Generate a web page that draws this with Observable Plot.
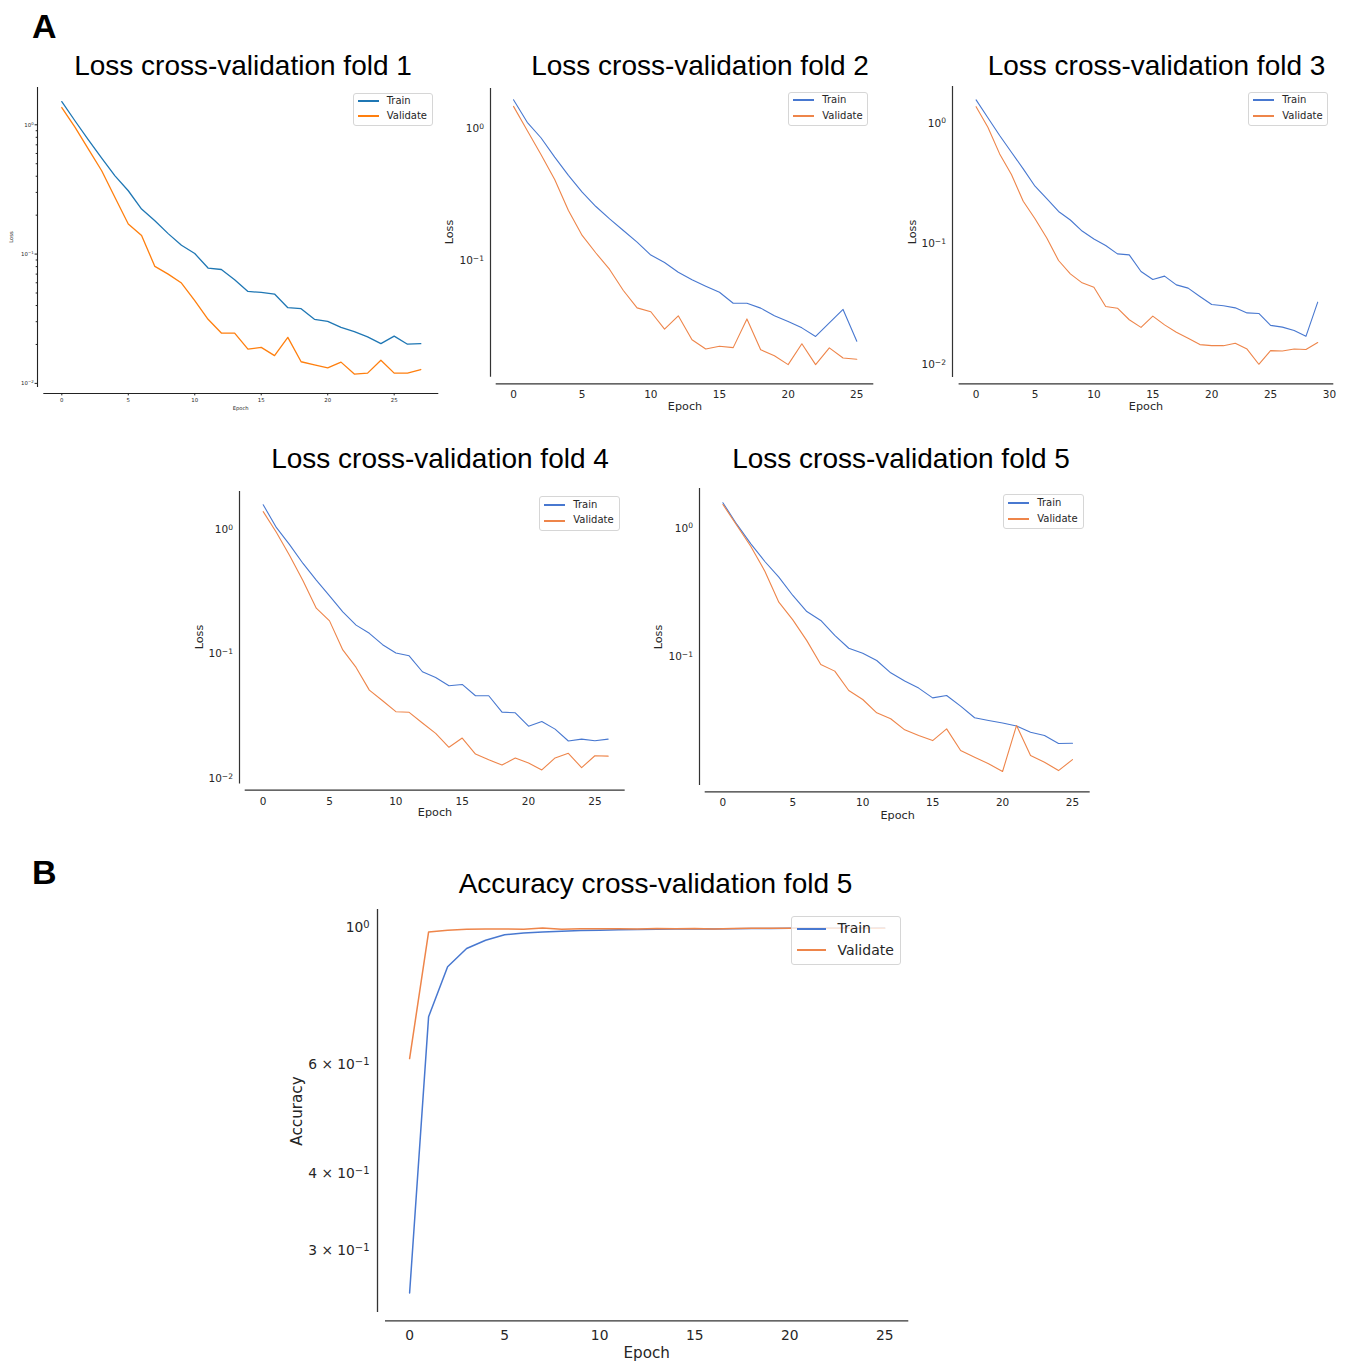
<!DOCTYPE html>
<html><head><meta charset="utf-8">
<script src="https://cdn.jsdelivr.net/npm/d3@7"></script>
<script src="https://cdn.jsdelivr.net/npm/@observablehq/plot@0.6"></script>
<style>
body{margin:0;background:#fff;}
#fig{position:relative;width:1349px;height:1364px;overflow:hidden;background:#fff;}
.abs{position:absolute;white-space:nowrap;line-height:1;}
.title{font-family:"Liberation Sans",Arial,Helvetica,sans-serif;font-size:28px;color:#000;}
.letter{font-family:"Liberation Sans",Arial,Helvetica,sans-serif;font-weight:bold;font-size:34px;color:#000;}
.lab{font-family:"DejaVu Sans",sans-serif;color:#262626;}
.leg{position:absolute;box-sizing:border-box;border:1px solid #d6d6d6;border-radius:3px;background:rgba(255,255,255,0.8);}
svg{position:absolute;overflow:visible;}
</style>
</head><body>
<div id="fig"></div>
<script>
// ---------------- data ----------------
const seriesNames = ["Train", "Validate"];
const fold1Train = [1.51,1.07,0.766,0.552,0.403,0.309,0.223,0.181,0.144,0.117,0.101,0.078,0.076,0.0633,0.0514,0.0505,0.0491,0.0385,0.0378,0.0313,0.0302,0.0271,0.0251,0.0229,0.0203,0.0232,0.0201,0.0203];
const fold1Val = [1.36,0.954,0.648,0.441,0.274,0.171,0.139,0.0803,0.0700,0.0597,0.0436,0.0313,0.0245,0.0245,0.0184,0.0190,0.0164,0.0227,0.0147,0.0139,0.0132,0.0146,0.0118,0.0120,0.0151,0.0120,0.0120,0.0128];
const fold2Train = [1.66,1.12,0.855,0.609,0.443,0.330,0.257,0.207,0.169,0.138,0.110,0.0966,0.0815,0.0713,0.0638,0.0574,0.0474,0.0474,0.0435,0.0380,0.0344,0.0308,0.0265,0.0336,0.0425,0.0244];
const fold2Val = [1.48,0.971,0.638,0.412,0.240,0.155,0.114,0.0855,0.0592,0.0437,0.0408,0.0301,0.0380,0.0250,0.0213,0.0223,0.0218,0.0360,0.0210,0.0189,0.0162,0.0233,0.0162,0.0217,0.0182,0.0178];
const fold3Train = [1.56,1.11,0.791,0.575,0.419,0.301,0.237,0.186,0.158,0.128,0.110,0.0972,0.0829,0.0813,0.0592,0.0508,0.0542,0.0459,0.0431,0.0368,0.0316,0.0308,0.0296,0.0269,0.0266,0.0212,0.0205,0.0192,0.0172,0.0330];
const fold3Val = [1.37,0.927,0.557,0.376,0.226,0.162,0.112,0.0730,0.0566,0.0477,0.0439,0.0304,0.0294,0.0236,0.0204,0.0253,0.0214,0.0186,0.0166,0.0147,0.0144,0.0144,0.0151,0.0135,0.0101,0.0131,0.0130,0.0135,0.0134,0.0153];
const fold4Train = [1.59,1.04,0.757,0.536,0.394,0.294,0.219,0.171,0.147,0.119,0.102,0.0969,0.0721,0.0649,0.0556,0.0570,0.0462,0.0462,0.0341,0.0337,0.0263,0.0287,0.0249,0.0200,0.0207,0.0201,0.0207];
const fold4Val = [1.40,0.952,0.618,0.389,0.234,0.185,0.108,0.0781,0.0513,0.0421,0.0344,0.0340,0.0279,0.0230,0.0178,0.0211,0.0157,0.0141,0.0128,0.0146,0.0133,0.0117,0.0146,0.0159,0.0122,0.0152,0.0151];
const fold5Train = [1.58,1.07,0.755,0.550,0.415,0.299,0.224,0.191,0.146,0.116,0.106,0.0931,0.0746,0.0643,0.0567,0.0476,0.0497,0.0410,0.0333,0.0317,0.0303,0.0287,0.0257,0.0242,0.0210,0.0211];
const fold5Val = [1.53,1.05,0.720,0.462,0.265,0.193,0.133,0.0867,0.0769,0.0543,0.0462,0.0364,0.0327,0.0268,0.0242,0.0221,0.0273,0.0185,0.0164,0.0146,0.0127,0.0290,0.0169,0.0150,0.0129,0.0157];
const accTrain = [0.256,0.718,0.865,0.926,0.955,0.975,0.981,0.985,0.988,0.990,0.991,0.993,0.994,0.995,0.996,0.997,0.996,0.997,0.998,0.998,0.999,0.999,0.999,0.999,0.999,1.0];
const accVal = [0.614,0.985,0.991,0.995,0.996,0.996,0.995,1.0,0.995,0.997,0.997,0.997,0.996,0.998,0.997,0.998,0.996,0.998,0.999,0.999,0.999,0.999,0.999,0.999,0.999,0.999];

const epochTicks25 = [0,5,10,15,20,25];
const epochTicks30 = [0,5,10,15,20,25,30];
const lossTickValues = [1, 0.1, 0.01];
const lossTickLabels = ["10^0", "10^-1", "10^-2"];
const lossTickValuesShort = [1, 0.1];
const accTickValues = [1, 0.6, 0.4, 0.3];
const accTickLabels = ["10^0", "6 × 10^-1", "4 × 10^-1", "3 × 10^-1"];
const minorTickValues = [0.02,0.03,0.04,0.05,0.06,0.07,0.08,0.09,0.2,0.3,0.4,0.5,0.6,0.7,0.8,0.9];
const titles = ["Loss cross-validation fold 1","Loss cross-validation fold 2","Loss cross-validation fold 3","Loss cross-validation fold 4","Loss cross-validation fold 5","Accuracy cross-validation fold 5"];

// ---------------- styles / layout ----------------
const mplColors = ["#1f77b4", "#ff7f0e"];
const snsColors = ["#4878d0", "#ee854a"];
const fig = document.getElementById("fig");
const SVGNS = "http://www.w3.org/2000/svg";

function addDiv(cls, text, css) {
  const d = document.createElement("div");
  d.className = "abs " + cls;
  d.textContent = text;
  Object.assign(d.style, css);
  fig.appendChild(d);
  return d;
}

// turn "10^-1" labels into base + raised exponent
function superscripts(svg) {
  svg.querySelectorAll("text").forEach(t => {
    const s = t.textContent;
    const k = s.indexOf("^");
    if (k < 0) return;
    const base = s.slice(0, k), exp = s.slice(k + 1).replace("-", "−");
    while (t.firstChild) t.removeChild(t.firstChild);
    t.appendChild(document.createTextNode(base));
    const sp = document.createElementNS(SVGNS, "tspan");
    sp.setAttribute("dy", "-0.42em");
    sp.setAttribute("font-size", "72%");
    sp.textContent = exp;
    t.appendChild(sp);
  });
}

const mL = 80, mR = 12, mT = 6, mB = 44;

function panel(c) {
  const pxE = (c.x25 - c.x0) / 25;
  const xAt = px => (px - c.x0) / pxE;
  const yAt = px => Math.pow(10, -(px - c.y1) / c.pxDec);
  const xDomain = [xAt(c.frameLeft), xAt(c.frameRight)];
  const yDomain = [yAt(c.frameBottom), yAt(c.frameTop)];
  const width = mL + (c.frameRight - c.frameLeft) + mR;
  const height = mT + (c.frameBottom - c.frameTop) + mB;
  const tr = c.train.map((v, i) => ({epoch: i, value: v, series: seriesNames[0]}));
  const va = c.val.map((v, i) => ({epoch: i, value: v, series: seriesNames[1]}));
  const yTicksIn = (c.yTicksShown || c.yTicks).filter(t => t >= yDomain[0] && t <= yDomain[1]);
  const marks = [
    Plot.ruleX([xDomain[0]], {y1: yAt(c.ySpineBottom), y2: yDomain[1], stroke: c.spine, strokeWidth: c.spineWidth}),
    Plot.ruleY([yDomain[0]], {x1: xAt(c.xSpineLeft), x2: xDomain[1], stroke: c.spine, strokeWidth: c.spineWidth}),
    Plot.axisX({ticks: c.xTicks, tickSize: c.tickSize, tickPadding: c.xPad, fontSize: c.fontSize, label: null, tickFormat: d => String(d), stroke: c.spine}),
    Plot.axisY({ticks: yTicksIn, tickSize: c.tickSize, tickPadding: c.yPad, fontSize: c.fontSize, label: null, tickFormat: d => c.yLabels[c.yTicks.indexOf(d)], stroke: c.spine})
  ];
  if (c.minor) {
    marks.push(Plot.axisY({ticks: minorTickValues.filter(t => t > yDomain[0] && t < yDomain[1]), tickSize: c.tickSize * 0.55, tickFormat: () => "", label: null, stroke: c.spine}));
  }
  marks.push(Plot.line(tr, {x: "epoch", y: "value", stroke: c.colors[0], strokeWidth: c.lw}));
  marks.push(Plot.line(va, {x: "epoch", y: "value", stroke: c.colors[1], strokeWidth: c.lw}));
  const svg = Plot.plot({
    width, height,
    marginLeft: mL, marginRight: mR, marginTop: mT, marginBottom: mB,
    x: {type: "linear", domain: xDomain},
    y: {type: "log", domain: yDomain},
    style: {fontFamily: "DejaVu Sans, sans-serif", color: "#262626", background: "transparent"},
    marks
  });
  superscripts(svg);
  svg.style.left = (c.frameLeft - mL) + "px";
  svg.style.top = (c.frameTop - mT) + "px";
  fig.appendChild(svg);

  // title
  addDiv("title", c.title, {left: c.titleX + "px", top: (c.titleBase - 0.8465 * 28) + "px", transform: "translateX(-50%)"});
  // axis labels
  addDiv("lab", "Epoch", {left: c.xLab[0] + "px", top: c.xLab[1] + "px", fontSize: c.labelSize + "px", transform: "translate(-50%,-50%)"});
  addDiv("lab", c.yName, {left: c.yLab[0] + "px", top: c.yLab[1] + "px", fontSize: c.labelSize + "px", transform: "translate(-50%,-50%) rotate(-90deg)"});
  // legend
  const L = c.legend;
  const box = document.createElement("div");
  box.className = "leg";
  Object.assign(box.style, {left: L.box[0] + "px", top: L.box[1] + "px", width: (L.box[2] - L.box[0]) + "px", height: (L.box[3] - L.box[1]) + "px"});
  fig.appendChild(box);
  seriesNames.forEach((name, i) => {
    const ln = document.createElement("div");
    ln.className = "abs";
    Object.assign(ln.style, {left: L.line[0] + "px", width: (L.line[1] - L.line[0]) + "px", top: Math.round(L.rows[i] - L.lw / 2) + "px", height: L.lw + "px", background: c.colors[i]});
    fig.appendChild(ln);
    addDiv("lab", name, {left: L.text + "px", top: L.rows[i] + "px", fontSize: L.fs + "px", transform: "translateY(-50%)"});
  });
}

const seabornBase = {colors: snsColors, lw: 1.1, spine: "#333", spineWidth: 1.2, tickSize: 0, xPad: 7, yPad: 6.5, fontSize: 10.5, labelSize: 11.2, yName: "Loss", yTicks: lossTickValues, yLabels: lossTickLabels, xTicks: epochTicks25};

panel({
  title: titles[0], titleX: 243, titleBase: 76,
  train: fold1Train, val: fold1Val, colors: mplColors, lw: 1.3, spine: "#222", spineWidth: 1.1,
  frameLeft: 37, frameRight: 438.3, frameTop: 86.7, frameBottom: 392.7,
  x0: 61.3, x25: 393.7, y1: 124, pxDec: 129.3, ySpineBottom: 386.7, xSpineLeft: 43.3,
  xTicks: epochTicks25, yTicks: lossTickValues, yLabels: lossTickLabels, minor: true,
  tickSize: 2.4, xPad: 2.5, yPad: 1.5, fontSize: 5.4, labelSize: 5.2, yName: "Loss",
  xLab: [240.7, 409], yLab: [12, 237],
  legend: {box: [353.3, 92.7, 432.7, 126], line: [357.7, 379], text: 386.7, rows: [101, 116], fs: 10, lw: 1.5}
});
panel(Object.assign({}, seabornBase, {
  title: titles[1], titleX: 700, titleBase: 76,
  train: fold2Train, val: fold2Val,
  frameLeft: 490, frameRight: 873.3, frameTop: 88, frameBottom: 383.3,
  x0: 513, x25: 856.3, y1: 128.3, pxDec: 131.7, ySpineBottom: 376.7, xSpineLeft: 495.7,
  xLab: [685, 407.3], yLab: [450, 231.7],
  legend: {box: [788.3, 91.7, 868.3, 126], line: [792.7, 814], text: 822.3, rows: [100, 115.7], fs: 10, lw: 1.5}
}));
panel(Object.assign({}, seabornBase, {
  title: titles[2], titleX: 1156.5, titleBase: 76,
  train: fold3Train, val: fold3Val, xTicks: epochTicks30,
  frameLeft: 951.7, frameRight: 1333, frameTop: 86, frameBottom: 383.3,
  x0: 975.3, x25: 1269.8, y1: 122.7, pxDec: 120.8, ySpineBottom: 377, xSpineLeft: 958.3,
  xLab: [1146, 407.3], yLab: [912.7, 231.7],
  legend: {box: [1248.3, 91.7, 1328.3, 126], line: [1253.3, 1274], text: 1282.3, rows: [100, 115.7], fs: 10, lw: 1.5}
}));
panel(Object.assign({}, seabornBase, {
  title: titles[3], titleX: 440, titleBase: 469,
  train: fold4Train, val: fold4Val,
  frameLeft: 239.3, frameRight: 625, frameTop: 490.7, frameBottom: 789.3,
  x0: 263, x25: 594.7, y1: 529, pxDec: 124.3, ySpineBottom: 783.3, xSpineLeft: 245,
  xLab: [435, 813.3], yLab: [200, 636.7],
  legend: {box: [539.3, 496, 620, 530.7], line: [544, 565], text: 573.3, rows: [505, 520.3], fs: 10, lw: 1.5}
}));
panel(Object.assign({}, seabornBase, {
  title: titles[4], titleX: 901, titleBase: 469,
  train: fold5Train, val: fold5Val, yTicksShown: lossTickValuesShort,
  frameLeft: 699.3, frameRight: 1090, frameTop: 488, frameBottom: 791.3,
  x0: 722.7, x25: 1072.3, y1: 527.7, pxDec: 128.3, ySpineBottom: 785, xSpineLeft: 705,
  xLab: [897.7, 815.7], yLab: [659, 636.7],
  legend: {box: [1003.3, 494, 1084.3, 529], line: [1007.7, 1029], text: 1037.3, rows: [502.7, 518.7], fs: 10, lw: 1.5}
}));
panel(Object.assign({}, seabornBase, {
  title: titles[5], titleX: 655.5, titleBase: 893.5,
  train: accTrain, val: accVal, lw: 1.5, spineWidth: 1.3,
  yTicks: accTickValues, yLabels: accTickLabels, yName: "Accuracy",
  frameLeft: 377.2, frameRight: 908.5, frameTop: 909.3, frameBottom: 1320.7,
  x0: 409.3, x25: 884.4, y1: 927.7, pxDec: 617, ySpineBottom: 1312.3, xSpineLeft: 385.2,
  fontSize: 13.8, labelSize: 15.2, xPad: 9.5, yPad: 8,
  xLab: [646.7, 1354], yLab: [298, 1110.7],
  legend: {box: [790.8, 916, 901.3, 965], line: [797, 826], text: 837.4, rows: [928.3, 950], fs: 14, lw: 1.6}
}));

addDiv("letter", "A", {left: "32px", top: (38 - 0.8465 * 34) + "px"});
addDiv("letter", "B", {left: "32px", top: (884 - 0.8465 * 34) + "px"});
</script>
</body></html>
